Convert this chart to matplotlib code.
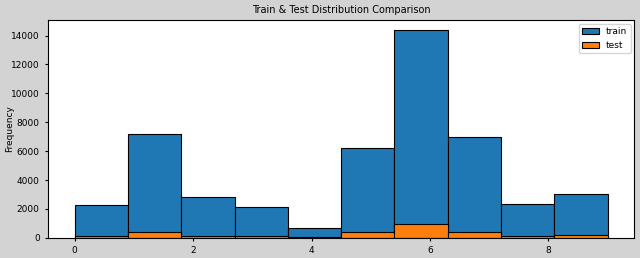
import matplotlib
matplotlib.use("Agg")
import matplotlib.pyplot as plt
import numpy as np

categories = [0, 1, 2, 3, 4, 5, 6, 7, 8, 9]
train_counts = [2280, 7180, 2830, 2150, 700, 6200, 14350, 6980, 2350, 3040]
test_counts = [130, 430, 160, 140, 50, 390, 970, 430, 140, 190]

fig = plt.figure(figsize=(6.4, 2.58), dpi=100, facecolor="#d3d3d3")
ax = fig.add_axes([0.075, 0.078, 0.916, 0.844])
ax.hist(categories, bins=10, range=(0, 9), weights=train_counts,
        color="#1f77b4", edgecolor="black", linewidth=0.8, label="train")
ax.hist(categories, bins=10, range=(0, 9), weights=test_counts,
        color="#ff7f0e", edgecolor="black", linewidth=0.8, label="test")
ax.set_title("Train & Test Distribution Comparison", fontsize=7, pad=5)
ax.set_ylabel("Frequency", fontsize=6.5)
ax.yaxis.set_label_coords(-0.058, 0.5)
ax.tick_params(labelsize=6.5, length=2.5)
ax.set_yticks(np.arange(0, 14001, 2000))
ax.legend(fontsize=6.5, loc="upper right", borderaxespad=0.4,
          handlelength=1.8)
fig.savefig("out.png", dpi=100, facecolor=fig.get_facecolor())
